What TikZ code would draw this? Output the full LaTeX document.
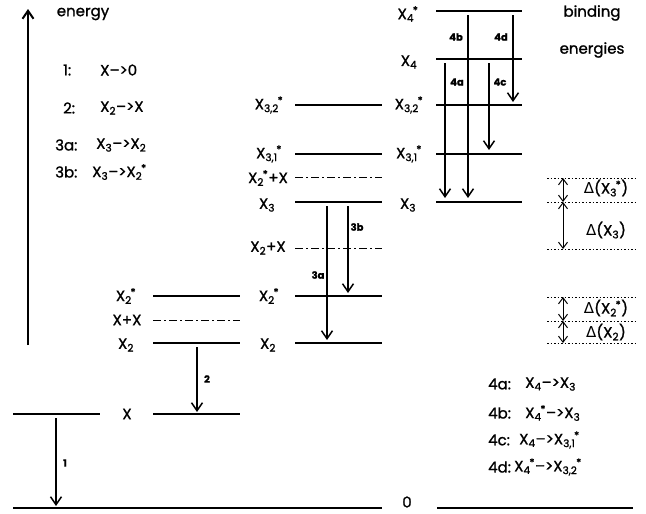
\documentclass[tikz,border=0pt]{standalone}
\usepackage{fontspec}
\setmainfont{Poppins}[FakeBold=1.2]
\newfontfamily\grk{DejaVu Sans}
\usetikzlibrary{arrows.meta}
\newcommand\SbSp[2]{\textsubscript{#1}\kern-0.08em\textsuperscript{#2}}
\tikzset{
  lvl/.style={line width=1.5pt},
  dd/.style={line width=1pt, dash pattern=on 8pt off 3pt on 2pt off 3pt},
  dotl/.style={line width=1pt, dash pattern=on 1.5pt off 2pt},
  tr/.style={line width=1.3pt, -{Straight Barb[length=8pt,width=11pt,line width=1.5pt]}},
  axis/.style={line width=2pt, -{Straight Barb[length=8pt,width=11pt,line width=2pt]}},
  dbl/.style={line width=1pt, {Straight Barb[length=6pt,width=9pt]}-{Straight Barb[length=6pt,width=9pt]}},
  lab/.style={font=\fontsize{15}{17}\selectfont, inner sep=0pt},
  tl/.style={font=\bfseries\fontsize{10}{12}\selectfont, inner sep=0pt},
}
\begin{document}
\begin{tikzpicture}[x=1pt,y=-1pt]
\useasboundingbox (0,0) rectangle (646,514);
% energy axis
\coordinate (axB) at (28,345); \coordinate (axT) at (28,9);
\draw[axis] (axB) -- (axT);
\node[lab] (energy) at (83,14) {energy};
\node[lab] (bind1) at (592,13) {binding};
\node[lab] (bind2) at (592,50) {energies};
% left legend
\node[lab,anchor=west] (k1) at (63,70) {1:};
\node[lab,anchor=west] (k1t) at (100,70) {X--{}>0};
\node[lab,anchor=west] (k2) at (63,108) {2:};
\node[lab,anchor=west] (k2t) at (100,108) {X\textsubscript{2}--{}>X};
\node[lab,anchor=west] (k3a) at (55,145) {3a:};
\node[lab,anchor=west] (k3at) at (96,145) {X\textsubscript{3}--{}>X\textsubscript{2}};
\node[lab,anchor=west] (k3b) at (55,172) {3b:};
\node[lab,anchor=west] (k3bt) at (92,172) {X\textsubscript{3}--{}>X\SbSp{2}{*}};
% right legend
\node[lab,anchor=west] (k4a) at (488,384) {4a:};
\node[lab,anchor=west] (k4at) at (525,384) {X\textsubscript{4}--{}>X\textsubscript{3}};
\node[lab,anchor=west] (k4b) at (488,413) {4b:};
\node[lab,anchor=west] (k4bt) at (525,413) {X\SbSp{4}{*}--{}>X\textsubscript{3}};
\node[lab,anchor=west] (k4c) at (488,440) {4c:};
\node[lab,anchor=west] (k4ct) at (519,440) {X\textsubscript{4}--{}>X\SbSp{3,1}{*}};
\node[lab,anchor=west] (k4d) at (488,467) {4d:};
\node[lab,anchor=west] (k4dt) at (514,467) {X\SbSp{4}{*}--{}>X\SbSp{3,2}{*}};
% ground level
\draw[lvl] (13,508) coordinate (g0L) -- (382,508) coordinate (g0R);
\draw[lvl] (437,508) coordinate (g1L) -- (633,508) coordinate (g1R);
\node[lab] (zero) at (407,502) {0};
% left column
\draw[lvl] (13,414) coordinate (XaL) -- (100,414) coordinate (XaR);
\draw[lvl] (153,414) coordinate (XbL) -- (240,414) coordinate (XbR);
\node[lab] (lX) at (127,414) {X};
\draw[lvl] (153,343) coordinate (X2L) -- (240,343) coordinate (X2R);
\node[lab] (lX2) at (126,345) {X\textsubscript{2}};
\draw[dd] (153,320) coordinate (XXL) -- (240,320) coordinate (XXR);
\node[lab] (lXX) at (127,320) {X+X};
\draw[lvl] (153,296) coordinate (X2sL) -- (240,296) coordinate (X2sR);
\node[lab] (lX2s) at (126,296) {X\SbSp{2}{*}};
% middle column
\draw[lvl] (295,343) coordinate (mX2L) -- (382,343) coordinate (mX2R);
\node[lab] (mlX2) at (268,345) {X\textsubscript{2}};
\draw[lvl] (295,296) coordinate (mX2sL) -- (382,296) coordinate (mX2sR);
\node[lab] (mlX2s) at (269,296) {X\SbSp{2}{*}};
\draw[dd] (295,248) coordinate (mX2XL) -- (382,248) coordinate (mX2XR);
\node[lab] (mlX2X) at (268,248) {X\textsubscript{2}+X};
\draw[lvl] (295,202) coordinate (mX3L) -- (382,202) coordinate (mX3R);
\node[lab] (mlX3) at (267,205) {X\textsubscript{3}};
\draw[dd] (295,177) coordinate (mX2sXL) -- (382,177) coordinate (mX2sXR);
\node[lab] (mlX2sX) at (268,178) {X\SbSp{2}{*}+X};
\draw[lvl] (295,154) coordinate (mX31L) -- (382,154) coordinate (mX31R);
\node[lab] (mlX31) at (269,154) {X\SbSp{3,1}{*}};
\draw[lvl] (295,105) coordinate (mX32L) -- (382,105) coordinate (mX32R);
\node[lab] (mlX32) at (269,105) {X\SbSp{3,2}{*}};
% right column
\draw[lvl] (436,202) coordinate (rX3L) -- (522,202) coordinate (rX3R);
\node[lab] (rlX3) at (408,205) {X\textsubscript{3}};
\draw[lvl] (436,154) coordinate (rX31L) -- (522,154) coordinate (rX31R);
\node[lab] (rlX31) at (409,154) {X\SbSp{3,1}{*}};
\draw[lvl] (436,105) coordinate (rX32L) -- (522,105) coordinate (rX32R);
\node[lab] (rlX32) at (409,105) {X\SbSp{3,2}{*}};
\draw[lvl] (436,59) coordinate (rX4L) -- (522,59) coordinate (rX4R);
\node[lab] (rlX4) at (409,62) {X\textsubscript{4}};
\draw[lvl] (436,11) coordinate (rX4sL) -- (522,11) coordinate (rX4sR);
\node[lab] (rlX4s) at (408,14) {X\SbSp{4}{*}};
% transitions
\coordinate (t1s) at (56,418); \coordinate (t1e) at (56,506);
\draw[tr] (t1s) -- (t1e);
\node[tl] (n1) at (65,463) {1};
\coordinate (t2s) at (197,347); \coordinate (t2e) at (197,412);
\draw[tr] (t2s) -- (t2e);
\node[tl] (n2) at (207,379) {2};
\coordinate (t3as) at (327,206); \coordinate (t3ae) at (327,340);
\draw[tr] (t3as) -- (t3ae);
\node[tl] (n3a) at (318,275) {3a};
\coordinate (t3bs) at (348,206); \coordinate (t3be) at (348,293);
\draw[tr] (t3bs) -- (t3be);
\node[tl] (n3b) at (357,227) {3b};
\coordinate (t4as) at (445,63); \coordinate (t4ae) at (445,198);
\draw[tr] (t4as) -- (t4ae);
\node[tl] (n4a) at (457,82) {4a};
\coordinate (t4bs) at (468,15); \coordinate (t4be) at (468,198);
\draw[tr] (t4bs) -- (t4be);
\node[tl] (n4b) at (456,37) {4b};
\coordinate (t4cs) at (489,63); \coordinate (t4ce) at (489,150);
\draw[tr] (t4cs) -- (t4ce);
\node[tl] (n4c) at (500,82) {4c};
\coordinate (t4ds) at (513,15); \coordinate (t4de) at (513,102);
\draw[tr] (t4ds) -- (t4de);
\node[tl] (n4d) at (501,37) {4d};
% binding energy brackets
\foreach \y/\n in {178/a,202/b,249/c,297/d,321/e,343/f}{
  \draw[dotl] (547,\y) coordinate (dL\n) -- (636,\y) coordinate (dR\n);
}
\coordinate (b1) at (563,178); \coordinate (b2) at (563,202);
\coordinate (b3) at (563,249); \coordinate (b4) at (563,297);
\coordinate (b5) at (563,321); \coordinate (b6) at (563,343);
\draw[dbl] (b1) -- (b2);
\draw[dbl] (b2) -- (b3);
\draw[dbl] (b4) -- (b5);
\draw[dbl] (b5) -- (b6);
\node[lab] (d3s) at (606,188) {{\grk Δ}(X\SbSp{3}{*})};
\node[lab] (d3) at (606,230) {{\grk Δ}(X\textsubscript{3})};
\node[lab] (d2s) at (606,308) {{\grk Δ}(X\SbSp{2}{*})};
\node[lab] (d2) at (606,332) {{\grk Δ}(X\textsubscript{2})};
\end{tikzpicture}
\end{document}
